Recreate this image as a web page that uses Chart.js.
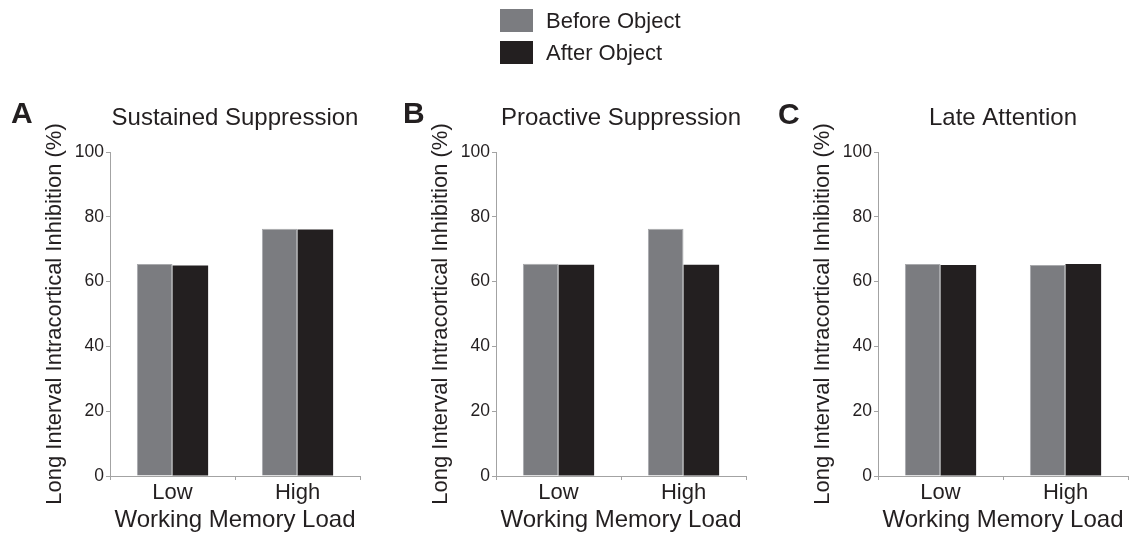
<!DOCTYPE html>
<html>
<head>
<meta charset="utf-8">
<script src="https://cdn.jsdelivr.net/npm/chart.js@4/dist/chart.umd.min.js"></script>
<style>
html, body { margin: 0; padding: 0; background: #ffffff; }
#wrap { position: relative; width: 1134px; height: 535px; overflow: hidden;
        font-family: "Liberation Sans", Arial, Helvetica, sans-serif; color: #231f20; }
#wrap canvas { position: absolute; top: 0; }
.leg { position: absolute; left: 500px; height: 23px; }
.sw { position: absolute; left: 0; top: 0; width: 33px; height: 23px; }
.lt { position: absolute; left: 46px; top: -2px; font-size: 22px; line-height: 27px; white-space: nowrap; }
</style>
</head>
<body>
<div id="wrap">
  <canvas id="cA" width="380" height="535" style="left:0px"></canvas>
  <canvas id="cB" width="380" height="535" style="left:380px"></canvas>
  <canvas id="cC" width="374" height="535" style="left:760px"></canvas>
  <div id="legend"></div>
</div>
<script>
// ---- data ----
const categories = ['Low', 'High'];
const seriesNames = ['Before Object', 'After Object'];
const panelLetters = ['A', 'B', 'C'];
const panelTitles = ['Sustained Suppression', 'Proactive Suppression', 'Late Attention'];
const yTickValues = [0, 20, 40, 60, 80, 100];
const xAxisTitle = 'Working Memory Load';
const yAxisTitle = 'Long Interval Intracortical Inhibition (%)';

const beforeA = [65.4, 76.3];
const afterA  = [65.0, 76.1];
const beforeB = [65.5, 76.3];
const afterB  = [65.2, 65.2];
const beforeC = [65.4, 65.1];
const afterC  = [65.1, 65.4];

// ---- styles ----
const colBefore = '#7b7c80';
const colBeforeEdge = '#a9aaad';
const colAfter = '#231f20';
const textCol = '#231f20';
const axisCol = '#a3a3a3';
const FONT = '"Liberation Sans", Arial, Helvetica, sans-serif';

Chart.defaults.font.family = FONT;
Chart.defaults.color = textCol;

// legend (HTML, from seriesNames)
const legendEl = document.getElementById('legend');
const legCols = [colBefore, colAfter];
const legTops = [9, 41];
seriesNames.forEach((name, i) => {
  const d = document.createElement('div');
  d.className = 'leg';
  d.style.top = legTops[i] + 'px';
  d.innerHTML = '<div class="sw" style="background:' + legCols[i] + '"></div><div class="lt">' + name + '</div>';
  legendEl.appendChild(d);
});

const panelLetterPlugin = {
  id: 'panelLetter',
  afterDraw(chart, args, opts) {
    const ctx = chart.ctx;
    ctx.save();
    ctx.font = 'bold 30px ' + FONT;
    ctx.fillStyle = textCol;
    ctx.textBaseline = 'alphabetic';
    ctx.textAlign = 'left';
    ctx.fillText(opts.text, opts.x, opts.y);
    ctx.restore();
  }
};

function makePanel(id, letter, title, before, after, padL, padR, letterX, letterY) {
  new Chart(document.getElementById(id), {
    type: 'bar',
    data: {
      labels: categories,
      datasets: [
        { label: seriesNames[0], data: before, backgroundColor: colBefore,
          borderColor: colBeforeEdge, borderWidth: 1 },
        { label: seriesNames[1], data: after, backgroundColor: colAfter,
          borderWidth: 0 }
      ]
    },
    plugins: [panelLetterPlugin],
    options: {
      responsive: false,
      animation: false,
      events: [],
      layout: { padding: { left: padL, right: padR, top: 0, bottom: 0 } },
      datasets: { bar: { categoryPercentage: 0.57, barPercentage: 1.0 } },
      plugins: {
        legend: { display: false },
        tooltip: { enabled: false },
        title: {
          display: true, text: title, fullSize: false, align: 'center',
          color: textCol, font: { size: 24, weight: 'normal' },
          padding: { top: 104, bottom: 19.2 }
        },
        panelLetter: { text: letter, x: letterX, y: letterY }
      },
      scales: {
        x: {
          offset: true,
          grid: { display: true, drawOnChartArea: false, drawTicks: true, tickLength: 4,
                  color: axisCol, lineWidth: 1, offset: true },
          border: { display: true, color: axisCol, width: 1 },
          ticks: { color: textCol, font: { size: 22 }, padding: 0 },
          title: { display: true, text: xAxisTitle, color: textCol,
                   font: { size: 24 }, padding: { top: 0, bottom: 0 } },
          afterFit(scale) { scale.height = 59; }
        },
        y: {
          min: 0, max: 100,
          afterBuildTicks(scale) { scale.ticks = yTickValues.map(v => ({ value: v })); },
          grid: { display: true, drawOnChartArea: false, drawTicks: true, tickLength: 4,
                  color: axisCol, lineWidth: 1 },
          border: { display: true, color: axisCol, width: 1 },
          ticks: { color: textCol, font: { size: 17.5 }, padding: 2 },
          title: { display: true, text: yAxisTitle, color: textCol,
                   font: { size: 22 }, padding: { top: 42, bottom: 0 } },
          afterFit(scale) { scale.width = 110; }
        }
      }
    }
  });
}

makePanel('cA', panelLetters[0], panelTitles[0], beforeA, afterA, 0, 20, 11, 123);
makePanel('cB', panelLetters[1], panelTitles[1], beforeB, afterB, 6, 14, 23, 123);
makePanel('cC', panelLetters[2], panelTitles[2], beforeC, afterC, 8, 6, 18, 124);
</script>
</body>
</html>
